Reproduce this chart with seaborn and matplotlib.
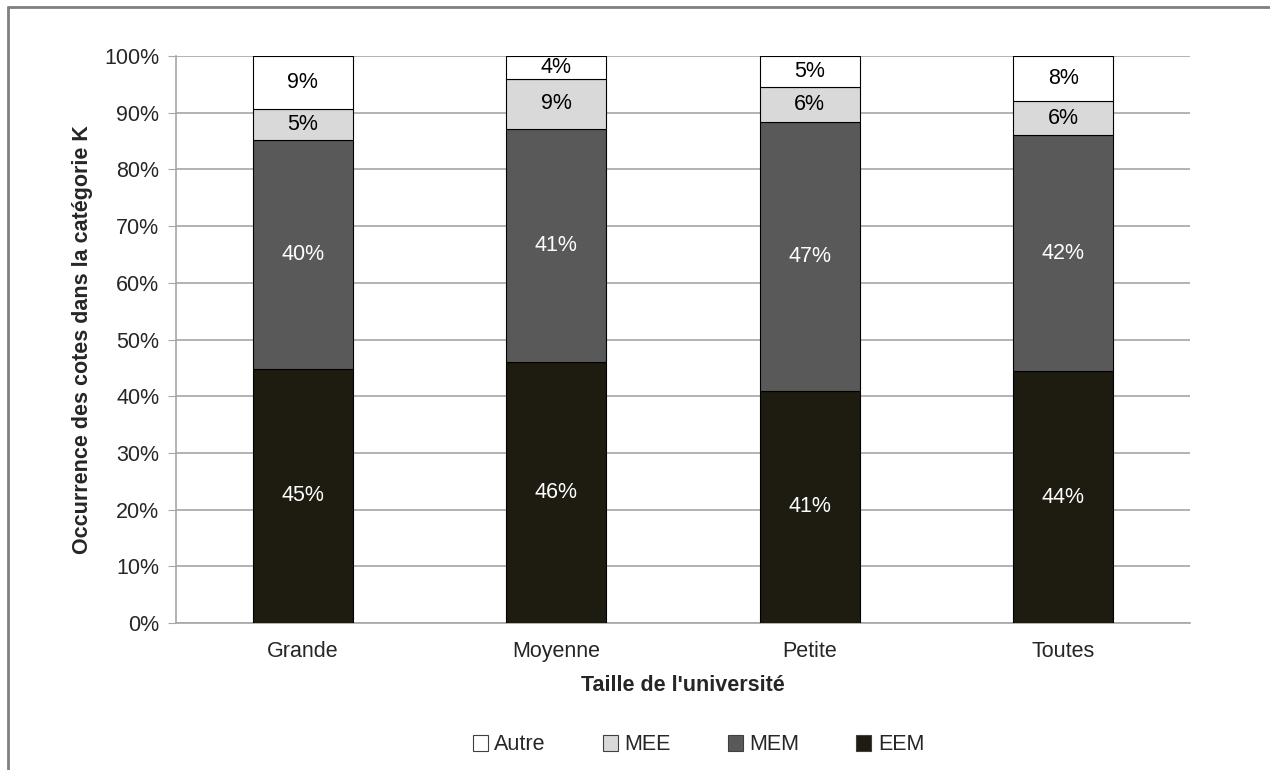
import matplotlib
matplotlib.use("Agg")
import matplotlib.pyplot as plt
import seaborn as sns
import numpy as np
from matplotlib.lines import Line2D
from matplotlib.patches import Patch

categories = ["Grande", "Moyenne", "Petite", "Toutes"]
series = ["EEM", "MEM", "MEE", "Autre"]
eem = [44.8, 46.0, 41.0, 44.4]
mem = [40.4, 41.2, 47.4, 41.6]
mee = [5.4, 8.7, 6.2, 6.1]
autre = [9.4, 4.1, 5.4, 7.9]
yticks = [0, 10, 20, 30, 40, 50, 60, 70, 80, 90, 100]

colors = {"EEM": "#1e1b10", "MEM": "#595959", "MEE": "#d9d9d9", "Autre": "#ffffff"}
label_colors = {"EEM": "white", "MEM": "white", "MEE": "black", "Autre": "black"}

sns.set_style("white")
plt.rcParams["font.family"] = ["Liberation Sans", "DejaVu Sans"]
FS = 15.5

fig = plt.figure(figsize=(12.7, 7.7), dpi=100)
ax = fig.add_axes([176/1270, 1 - 623/770, (1190-176)/1270, (623-56)/770])

data = {"EEM": eem, "MEM": mem, "MEE": mee, "Autre": autre}
bottom = np.zeros(len(categories))
for s in series:
    vals = np.array(data[s])
    sns.barplot(x=categories, y=vals, bottom=bottom, color=colors[s],
                edgecolor="black", linewidth=0.8, width=0.395, ax=ax,
                saturation=1, zorder=3)
    cont = ax.containers[-1]
    ax.bar_label(cont, labels=[f"{v:.0f}%" for v in vals], label_type="center",
                 color=label_colors[s], fontsize=FS)
    bottom = bottom + vals

ax.set_xlim(-0.5, 3.5)
ax.set_ylim(0, 100)
ax.set_yticks(yticks)
ax.set_yticklabels([f"{t}%" for t in yticks], fontsize=FS)
ax.yaxis.grid(True, color="#a6a6a6", linewidth=1.2, zorder=0)
ax.set_axisbelow(True)
ax.set_xticks(range(len(categories)))
ax.set_xticklabels(categories, fontsize=FS)
ax.set_xticks(np.arange(-0.5, 4.0, 1.0), minor=True)
ax.tick_params(axis="x", which="major", length=0, pad=13)
ax.tick_params(axis="x", which="minor", length=6, color="#a6a6a6", direction="out")
ax.tick_params(axis="y", which="major", length=6, color="#a6a6a6", direction="out", left=True, pad=6)
for side in ["top", "right"]:
    ax.spines[side].set_visible(False)
for side in ["left", "bottom"]:
    ax.spines[side].set_color("#a6a6a6")
    ax.spines[side].set_linewidth(1.2)

ax.set_xlabel("Taille de l'université", fontsize=FS, fontweight="bold", labelpad=9)
ax.set_ylabel("Occurrence des cotes dans la catégorie K", fontsize=FS, fontweight="bold", labelpad=8)

handles = [Patch(facecolor=colors[s], edgecolor="#404040", linewidth=0.8, label=s)
           for s in ["Autre", "MEE", "MEM", "EEM"]]
fig.legend(handles=handles, loc="center", bbox_to_anchor=(0.55, 1 - 745/770), ncol=4,
           frameon=False, fontsize=FS, handlelength=0.7, handleheight=0.7,
           handletextpad=0.3, columnspacing=2.65)

fig.add_artist(Line2D([8/1270, 8/1270], [0, 1 - 7/770], transform=fig.transFigure,
                      color="#808080", linewidth=2))
fig.add_artist(Line2D([8/1270, 1], [1 - 7/770, 1 - 7/770], transform=fig.transFigure,
                      color="#808080", linewidth=2))

fig.savefig("out.png", dpi=100)
